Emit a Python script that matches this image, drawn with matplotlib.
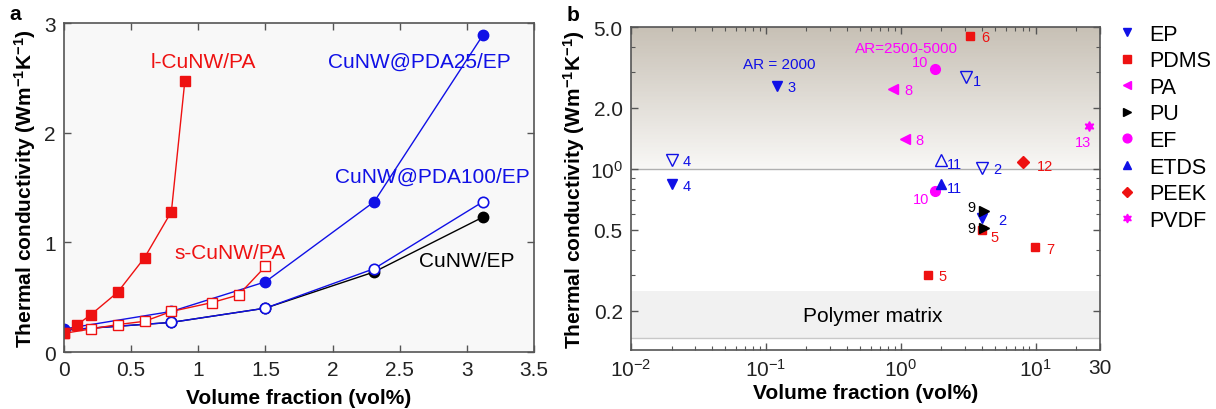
import matplotlib
matplotlib.use('Agg')
import matplotlib.pyplot as plt
import numpy as np
from matplotlib.ticker import FixedLocator, NullFormatter, LogLocator

plt.rcParams['font.family'] = ['Liberation Sans', 'DejaVu Sans']
plt.rcParams['mathtext.fontset'] = 'custom'
plt.rcParams['mathtext.rm'] = 'Liberation Sans'
plt.rcParams['mathtext.it'] = 'Liberation Sans:italic'
plt.rcParams['mathtext.bf'] = 'Liberation Sans:bold'
plt.rcParams['axes.unicode_minus'] = False

# ---- panel a data ----
l_pa_x = [0, 0.1, 0.2, 0.4, 0.6, 0.8, 0.9]
l_pa_y = [0.17, 0.25, 0.34, 0.545, 0.86, 1.28, 2.47]
s_pa_x = [0, 0.2, 0.4, 0.6, 0.8, 1.1, 1.3, 1.5]
s_pa_y = [0.17, 0.21, 0.25, 0.28, 0.37, 0.45, 0.52, 0.78]
ep_x = [0, 0.8, 1.5, 2.31, 3.12]
pda25_y = [0.21, 0.37, 0.64, 1.37, 2.89]
pda100_y = [0.2, 0.27, 0.40, 0.76, 1.37]
cunw_ep_y = [0.2, 0.27, 0.40, 0.73, 1.23]

# ---- panel b data ----
ep_fill_x = [0.02, 0.12, 4.0]
ep_fill_y = [0.84, 2.57, 0.57]
ep_fill_ref = ['4', '3', '2']
ep_open_x = [0.02, 3.06, 4.0]
ep_open_y = [1.11, 2.83, 1.01]
ep_open_ref = ['4', '1', '2']
pdms_x = [3.28, 4.0, 1.58, 9.9]
pdms_y = [4.54, 0.50, 0.30, 0.41]
pdms_ref = ['6', '5', '5', '7']
pa_x = [0.88, 1.07]
pa_y = [2.48, 1.41]
pa_ref = ['8', '8']
pu_x = [4.14, 4.14]
pu_y = [0.62, 0.51]
pu_ref = ['9', '9']
ef_x = [1.79, 1.79]
ef_y = [3.11, 0.78]
ef_ref = ['10', '10']
etds_fill_x = [2.0]
etds_fill_y = [0.84]
etds_fill_ref = ['11']
etds_open_x = [2.0]
etds_open_y = [1.11]
etds_open_ref = ['11']
peek_x = [8.05]
peek_y = [1.08]
peek_ref = ['12']
pvdf_x = [24.8]
pvdf_y = [1.62]
pvdf_ref = ['13']

RED = '#ee1111'
BLUE = '#1010e6'
MAG = '#ff00ff'
SPINE = '#555555'

fig = plt.figure(figsize=(12.16, 4.10), dpi=100)

# ================= panel a =================
ax = fig.add_axes([0.0526, 0.139, 0.3865, 0.8024])
ax.set_facecolor('#f8f8f8')
ax.plot(ep_x, cunw_ep_y, '-o', color='black', lw=1, ms=7.5, mfc='black')
ax.plot(ep_x, pda100_y, '-o', color=BLUE, lw=1, ms=7.5, mfc='white', mew=1.2)
ax.plot(ep_x, pda25_y, '-o', color=BLUE, lw=1, ms=7.5, mfc=BLUE)
ax.plot(s_pa_x, s_pa_y, '-s', color=RED, lw=1, ms=6.5, mfc='white', mew=1)
ax.plot(l_pa_x, l_pa_y, '-s', color=RED, lw=1, ms=6.5, mfc=RED)

ax.text(1.04, 2.65, 'l-CuNW/PA', color=RED, fontsize=15, ha='center', va='center')
ax.text(1.24, 0.91, 's-CuNW/PA', color=RED, fontsize=15, ha='center', va='center')
ax.text(2.65, 2.65, 'CuNW@PDA25/EP', color=BLUE, fontsize=15, ha='center', va='center')
ax.text(2.74, 1.60, 'CuNW@PDA100/EP', color=BLUE, fontsize=15, ha='center', va='center')
ax.text(3.0, 0.83, 'CuNW/EP', color='black', fontsize=15, ha='center', va='center')

ax.set_xlim(0, 3.5)
ax.set_ylim(0, 3)
ax.set_xticks([0, 0.5, 1, 1.5, 2, 2.5, 3, 3.5])
ax.set_xticklabels(['0', '0.5', '1', '1.5', '2', '2.5', '3', '3.5'])
ax.set_yticks([0, 1, 2, 3])
ax.tick_params(direction='in', top=True, right=True, length=5, width=1,
               labelsize=15, colors=SPINE, labelcolor='#222222', pad=6)
for s in ax.spines.values():
    s.set_color(SPINE)
    s.set_linewidth(1.2)
ax.set_xlabel('Volume fraction (vol%)', fontsize=15, fontweight='bold', labelpad=6)
ax.set_ylabel(r'Thermal conductivity (Wm$^{\mathbf{-1}}$K$^{\mathbf{-1}}$)',
              fontsize=15, fontweight='bold', labelpad=4)
fig.text(0.008, 0.965, 'a', fontsize=15, fontweight='bold', va='center')

# ================= panel b =================
bx = fig.add_axes([0.5189, 0.1439, 0.3857, 0.7878])
bx.set_xscale('log')
bx.set_yscale('log')
bx.set_xlim(0.01, 30)
bx.set_ylim(0.128, 5)

# gradient above k = 1
top_c = np.array([199, 192, 181]) / 255
bot_c = np.array([248, 247, 245]) / 255
edges = np.logspace(0, np.log10(5), 90)
for i in range(len(edges) - 1):
    f = i / (len(edges) - 2)
    bx.axhspan(edges[i], edges[i + 1], color=bot_c + (top_c - bot_c) * f, lw=0, zorder=0)
# polymer matrix band
bx.axhspan(0.147, 0.25, color='#f1f1f1', lw=0, zorder=0)
bx.axhline(0.147, color='#c8c8c8', lw=1, zorder=1)
bx.axhline(1.0, color='#b0b0b0', lw=1, zorder=1)
bx.text(0.62, 0.19, 'Polymer matrix', fontsize=15, ha='center', va='center')

ms = 7
bx.plot(ep_fill_x, ep_fill_y, 'v', color=BLUE, ms=ms, ls='none', label='EP', zorder=3)
bx.plot(ep_open_x, ep_open_y, 'v', color=BLUE, mfc='none', ms=ms + 1, ls='none', zorder=3)
bx.plot(pdms_x, pdms_y, 's', color=RED, ms=6, ls='none', label='PDMS', zorder=3)
bx.plot(pa_x, pa_y, '<', color=MAG, ms=ms, ls='none', label='PA', zorder=3)
bx.plot(pu_x, pu_y, '>', color='black', ms=ms, ls='none', label='PU', zorder=4)
bx.plot(ef_x, ef_y, 'o', color=MAG, ms=ms, ls='none', label='EF', zorder=3)
bx.plot(etds_fill_x, etds_fill_y, '^', color=BLUE, ms=ms, ls='none', label='ETDS', zorder=3)
bx.plot(etds_open_x, etds_open_y, '^', color=BLUE, mfc='none', ms=ms + 1, ls='none', zorder=3)
bx.plot(peek_x, peek_y, 'D', color=RED, ms=6, ls='none', label='PEEK', zorder=3)
bx.plot(pvdf_x, pvdf_y, marker=(6, 1, 0), color=MAG, ms=7, ls='none', label='PVDF', zorder=3)

# reference-number labels: (offset in points, horizontal alignment)
R = (8, -1, 'left')


def refs(xs, ys, names, color, offs):
    for x, y, n, (dx, dy, ha) in zip(xs, ys, names, offs):
        bx.annotate(n, (x, y), xytext=(dx, dy), textcoords='offset points',
                    ha=ha, va='center', color=color, fontsize=10.5, zorder=5)


refs(ep_fill_x, ep_fill_y, ep_fill_ref, BLUE, [R, R, (12, -1, 'left')])
refs(ep_open_x, ep_open_y, ep_open_ref, BLUE, [R, (5, -3, 'left'), R])
refs(pdms_x, pdms_y, pdms_ref, RED, [R, (6, -5, 'left'), R, R])
refs(pa_x, pa_y, pa_ref, MAG, [R, R])
refs(pu_x, pu_y, pu_ref, 'black', [(-6, 3, 'right'), (-6, 0, 'right')])
refs(ef_x, ef_y, ef_ref, MAG, [(-5, 5, 'right'), (-4, -6, 'right')])
refs(etds_fill_x, etds_fill_y, etds_fill_ref, BLUE, [(4, -3, 'left')])
refs(etds_open_x, etds_open_y, etds_open_ref, BLUE, [(4, -3, 'left')])
refs(peek_x, peek_y, peek_ref, RED, [(10, -3, 'left')])
refs(pvdf_x, pvdf_y, pvdf_ref, MAG, [(-4, -11, 'center')])

bx.text(0.125, 3.3, 'AR = 2000', color=BLUE, fontsize=11, ha='center', va='center')
bx.text(1.1, 3.95, 'AR=2500-5000', color=MAG, fontsize=11, ha='center', va='center')

bx.xaxis.set_major_locator(FixedLocator([0.01, 0.1, 1, 10, 30]))
bx.set_xticklabels([r'$10^{-2}$', r'$10^{-1}$', r'$10^{0}$', r'$10^{1}$', '30'])
bx.xaxis.set_minor_locator(LogLocator(base=10, subs=np.arange(2, 10), numticks=20))
bx.xaxis.set_minor_formatter(NullFormatter())
bx.yaxis.set_major_locator(FixedLocator([0.2, 0.5, 1, 2, 5]))
bx.set_yticklabels(['0.2', '0.5', r'$10^{0}$', '2.0', '5.0'])
bx.yaxis.set_minor_locator(LogLocator(base=10, subs=np.arange(2, 10), numticks=20))
bx.yaxis.set_minor_formatter(NullFormatter())
bx.tick_params(which='both', direction='in', top=True, right=True, colors=SPINE,
               labelcolor='#222222', labelsize=15, pad=6)
bx.tick_params(which='major', length=5, width=1)
bx.tick_params(which='minor', length=3, width=0.8)
for s in bx.spines.values():
    s.set_color(SPINE)
    s.set_linewidth(1.2)
    s.set_zorder(6)
bx.set_xlabel('Volume fraction (vol%)', fontsize=15, fontweight='bold', labelpad=2)
bx.set_ylabel(r'Thermal conductivity (Wm$^{\mathbf{-1}}$K$^{\mathbf{-1}}$)',
              fontsize=15, fontweight='bold', labelpad=2)
fig.text(0.466, 0.962, 'b', fontsize=15, fontweight='bold', va='center')

bx.legend(loc='upper left', bbox_to_anchor=(0.918, 0.94), bbox_transform=fig.transFigure,
          frameon=False, fontsize=15.5, handlelength=1.0, handletextpad=0.55,
          labelspacing=0.26, borderaxespad=0, borderpad=0, markerscale=0.9)

fig.savefig('out.png', dpi=100)
